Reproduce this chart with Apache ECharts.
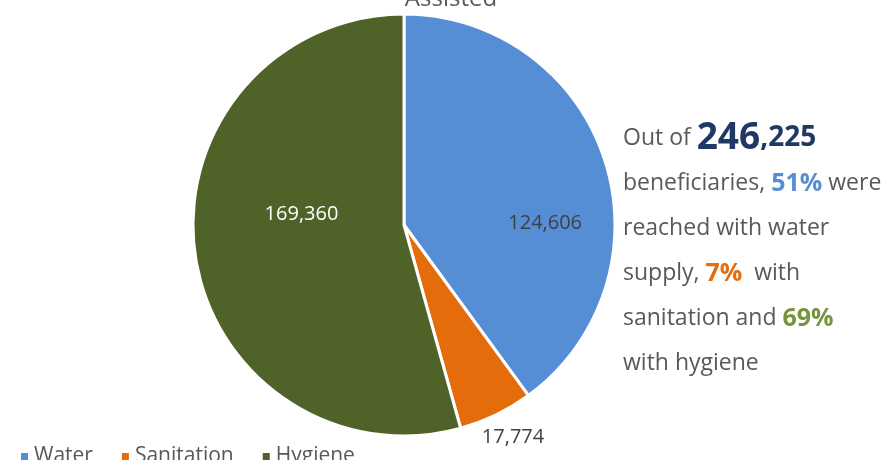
<!DOCTYPE html>
<html><head><meta charset="utf-8">
<script src="https://cdn.jsdelivr.net/npm/echarts@6/dist/echarts.min.js"></script>
<style>html,body{margin:0;padding:0;background:#fff}#c{width:893px;height:460px}</style>
</head><body><div id="c"></div>
<script>
const categories = ['Water', 'Sanitation', 'Hygiene'];
const values = [124606, 17774, 169360];
const colors = ['#558ED5', '#E46C0A', '#4F6228'];
const titleText = 'Assisted';
const chart = echarts.init(document.getElementById('c'), null, {renderer: 'canvas'});
const FF = 'Open Sans, Lato, sans-serif';
const labelOffsets = [[38, 32], [-20, 21], [5, -25]];
chart.setOption({
  animation: false,
  title: {text: titleText, left: 446, top: -18, textAlign: 'center',
    textStyle: {fontFamily: FF, fontSize: 24, fontWeight: 'normal', color: '#595959'}},
  legend: {
    data: categories, left: 14, top: 441, itemWidth: 9, itemHeight: 9, itemGap: 27, icon: 'rect',
    textStyle: {fontFamily: FF, fontSize: 21, color: '#595959'}
  },
  series: [{
    type: 'pie', center: [404, 225], radius: 211, startAngle: 90, clockwise: true,
    itemStyle: {borderColor: '#fff', borderWidth: 3},
    data: categories.map((c, i) => ({
      name: c, value: values[i], itemStyle: {color: colors[i]},
      label: {
        position: i === 1 ? 'outside' : 'inside',
        color: i === 2 ? '#fff' : '#404040',
        offset: labelOffsets[i]
      }
    })),
    label: {fontFamily: FF, fontSize: 20, formatter: p => p.value.toLocaleString('en-US')},
    labelLine: {show: false, length: 2, length2: 0}
  }],
  graphic: [{
    type: 'text', left: 623, top: 120,
    style: {
      text: '{a|Out of }{big|246}{mid|,225}\n{a|beneficiaries, }{blue|51%}{a| were}\n{a|reached with water}\n{a|supply, }{org|7%}{a|  with}\n{a|sanitation and }{grn|69%}\n{a|with hygiene}',
      rich: {
        a: {fontFamily: FF, fontSize: 23, fill: '#595959', lineHeight: 45},
        big: {fontFamily: FF, fontSize: 37, fontWeight: 'bold', fill: '#1F3864', lineHeight: 45},
        mid: {fontFamily: FF, fontSize: 28, fontWeight: 'bold', fill: '#1F3864', lineHeight: 45},
        blue: {fontFamily: FF, fontSize: 25, fontWeight: 'bold', fill: '#558ED5', lineHeight: 45},
        org: {fontFamily: FF, fontSize: 25, fontWeight: 'bold', fill: '#E46C0A', lineHeight: 45},
        grn: {fontFamily: FF, fontSize: 25, fontWeight: 'bold', fill: '#77933C', lineHeight: 45}
      }
    }
  }]
});
</script></body></html>
